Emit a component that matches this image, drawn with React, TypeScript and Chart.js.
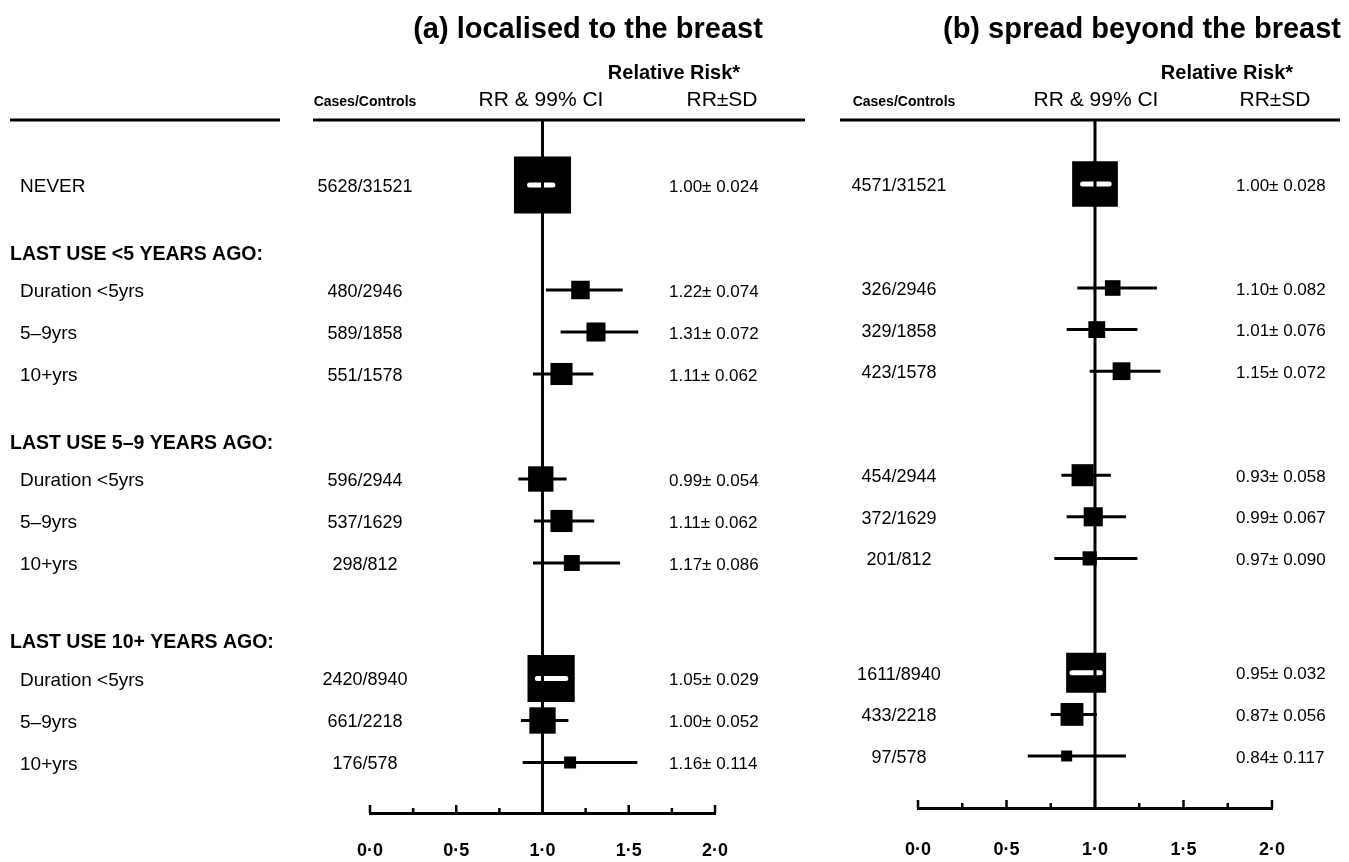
import React, { useEffect, useRef } from 'react';
import { Chart, registerables } from 'chart.js';

Chart.register(...registerables);

// ---------------- data ----------------
const TITLES = ['(a) localised to the breast', '(b) spread beyond the breast'];
const ROW_LABELS = [
  'NEVER',
  'Duration <5yrs', '5–9yrs', '10+yrs',
  'Duration <5yrs', '5–9yrs', '10+yrs',
  'Duration <5yrs', '5–9yrs', '10+yrs',
];
const SECTION_LABELS = ['LAST USE <5 YEARS AGO:', 'LAST USE 5–9 YEARS AGO:', 'LAST USE 10+ YEARS AGO:'];
const X_TICKS = [0, 0.5, 1, 1.5, 2];
const X_TICK_LABELS = ['0·0', '0·5', '1·0', '1·5', '2·0'];
const X_MINOR_TICKS = [0.25, 0.75, 1.25, 1.75];
const REF_RR = 1;

// (a) localised to the breast
const CASES_A = ['5628/31521', '480/2946', '589/1858', '551/1578', '596/2944', '537/1629', '298/812', '2420/8940', '661/2218', '176/578'];
const RR_A = [1.0, 1.22, 1.31, 1.11, 0.99, 1.11, 1.17, 1.05, 1.0, 1.16];
const SD_A = [0.024, 0.074, 0.072, 0.062, 0.054, 0.062, 0.086, 0.029, 0.052, 0.114];
const LO_A = [0.925, 1.02, 1.105, 0.945, 0.86, 0.95, 0.945, 0.97, 0.875, 0.885];
const HI_A = [1.06, 1.465, 1.555, 1.295, 1.14, 1.3, 1.45, 1.135, 1.15, 1.55];

// (b) spread beyond the breast
const CASES_B = ['4571/31521', '326/2946', '329/1858', '423/1578', '454/2944', '372/1629', '201/812', '1611/8940', '433/2218', '97/578'];
const RR_B = [1.0, 1.1, 1.01, 1.15, 0.93, 0.99, 0.97, 0.95, 0.87, 0.84];
const SD_B = [0.028, 0.082, 0.076, 0.072, 0.058, 0.067, 0.09, 0.032, 0.056, 0.117];
const LO_B = [0.93, 0.9, 0.84, 0.97, 0.81, 0.84, 0.77, 0.87, 0.75, 0.62];
const HI_B = [1.08, 1.35, 1.24, 1.37, 1.09, 1.175, 1.24, 1.03, 1.01, 1.175];

// ---------------- layout ----------------
const ROW_SLOTS = [0, 2.5, 3.5, 4.5, 7, 8, 9, 11.75, 12.75, 13.75];
const SECTION_SLOTS = [1.65, 6.15, 10.9];
const FONT = '"Liberation Sans", Arial, Helvetica, sans-serif';
const W = 1349;
const H = 862;

type Panel = {
  title: string;
  cases: string[];
  rr: number[];
  sd: number[];
  lo: number[];
  hi: number[];
  left: number;
  width: number;
  areaLeft: number;
  areaRight: number;
  areaTop: number;
  areaBottom: number;
  yMin: number;
  yMax: number;
  sizeK: number;
  titleX: number;
  relRiskX: number;
  casesHdrX: number;
  ciHdrX: number;
  sdHdrX: number;
  casesX: number;
  sdX: number;
  lines: number[][];
  rowLabels: boolean;
  tickPad: number;
};

const PANELS: Panel[] = [
  {
    title: TITLES[0], cases: CASES_A, rr: RR_A, sd: SD_A, lo: LO_A, hi: HI_A,
    left: 0, width: 830, areaLeft: 370, areaRight: 715, areaTop: 120, areaBottom: 813,
    yMin: -65 / 42, yMax: (813 - 185) / 42, sizeK: 1.37,
    titleX: 588, relRiskX: 674, casesHdrX: 365, ciHdrX: 541, sdHdrX: 722,
    casesX: 365, sdX: 669, lines: [[10, 280], [313, 805]], rowLabels: true, tickPad: 27,
  },
  {
    title: TITLES[1], cases: CASES_B, rr: RR_B, sd: SD_B, lo: LO_B, hi: HI_B,
    left: 830, width: W - 830, areaLeft: 918, areaRight: 1272, areaTop: 120, areaBottom: 808,
    yMin: -64 / 41.6, yMax: (808 - 184) / 41.6, sizeK: 1.28,
    titleX: 1142, relRiskX: 1227, casesHdrX: 904, ciHdrX: 1096, sdHdrX: 1275,
    casesX: 899, sdX: 1236, lines: [[840, 1340]], rowLabels: false, tickPad: 31,
  },
];

function buildChart(canvas: HTMLCanvasElement, p: Panel) {
  const side = (i: number) => p.sizeK / p.sd[i];
  const axisH = H - p.areaBottom;
  const datasets: any[] = [];

  // reference line at RR = 1
  datasets.push({
    type: 'line',
    data: [{ x: REF_RR, y: p.yMin }, { x: REF_RR, y: p.yMax }],
    borderColor: '#000',
    borderWidth: 3,
    pointRadius: 0,
    clip: false,
    order: 0,
  });

  // white CI drawn inside large squares
  p.rr.forEach((_, i) => {
    datasets.push({
      type: 'line',
      data: [{ x: p.lo[i], y: ROW_SLOTS[i] }, { x: p.hi[i], y: ROW_SLOTS[i] }],
      borderColor: 'rgba(0,0,0,0)',
      borderWidth: 5,
      borderCapStyle: 'round',
      pointRadius: 0,
      order: 1,
      segment: {
        borderColor: (ctx: any) => (ctx.p1.x - ctx.p0.x < side(i) - 4 ? '#fff' : 'rgba(0,0,0,0)'),
      },
    });
  });

  // squares
  datasets.push({
    type: 'scatter',
    data: p.rr.map((r, i) => ({ x: r, y: ROW_SLOTS[i] })),
    pointStyle: 'rect',
    pointRadius: (ctx: any) => side(ctx.dataIndex) / Math.SQRT2,
    backgroundColor: '#000',
    borderWidth: 0,
    order: 2,
  });

  // black CI lines
  p.rr.forEach((_, i) => {
    datasets.push({
      type: 'line',
      data: [{ x: p.lo[i], y: ROW_SLOTS[i] }, { x: p.hi[i], y: ROW_SLOTS[i] }],
      borderColor: '#000',
      borderWidth: 3,
      pointRadius: 0,
      order: 3,
    });
  });

  const off = p.left;

  const textPlugin = {
    id: 'forestText',
    afterDraw(chart: any) {
      const ctx = chart.ctx as CanvasRenderingContext2D;
      const y = chart.scales.y;
      ctx.save();
      ctx.fillStyle = '#000';
      ctx.strokeStyle = '#000';

      // titles & headers
      ctx.textBaseline = 'middle';
      ctx.textAlign = 'center';
      ctx.font = `bold 29px ${FONT}`;
      ctx.fillText(p.title, p.titleX - off, 30);
      ctx.font = `bold 20px ${FONT}`;
      ctx.fillText('Relative Risk*', p.relRiskX - off, 73);
      ctx.font = `bold 14px ${FONT}`;
      ctx.fillText('Cases/Controls', p.casesHdrX - off, 102);
      ctx.font = `21px ${FONT}`;
      ctx.fillText('RR & 99% CI', p.ciHdrX - off, 100);
      ctx.fillText('RR±SD', p.sdHdrX - off, 100);

      // header rule
      ctx.lineWidth = 3;
      p.lines.forEach(([a, b]) => {
        ctx.beginPath();
        ctx.moveTo(a - off, p.areaTop);
        ctx.lineTo(b - off, p.areaTop);
        ctx.stroke();
      });

      // rows
      p.rr.forEach((r, i) => {
        const py = y.getPixelForValue(ROW_SLOTS[i]) + 2;
        ctx.textAlign = 'center';
        ctx.font = `18px ${FONT}`;
        ctx.fillText(p.cases[i], p.casesX - off, py);
        ctx.textAlign = 'left';
        ctx.font = `17px ${FONT}`;
        ctx.fillText(`${r.toFixed(2)}± ${p.sd[i].toFixed(3)}`, p.sdX - off, py);
      });

      if (p.rowLabels) {
        ctx.textAlign = 'left';
        ctx.font = `19px ${FONT}`;
        ROW_LABELS.forEach((lab, i) => {
          ctx.fillText(lab, 20 - off, y.getPixelForValue(ROW_SLOTS[i]) + 2);
        });
        ctx.font = `bold 19.5px ${FONT}`;
        SECTION_LABELS.forEach((lab, i) => {
          ctx.fillText(lab, 10 - off, y.getPixelForValue(SECTION_SLOTS[i]));
        });
      }

      // upward tick marks on the x axis
      const x = chart.scales.x;
      const base = chart.chartArea.bottom;
      ctx.lineWidth = 2.5;
      X_TICKS.forEach((v) => {
        const px = x.getPixelForValue(v);
        ctx.beginPath();
        ctx.moveTo(px, base);
        ctx.lineTo(px, base - 8);
        ctx.stroke();
      });
      X_MINOR_TICKS.forEach((v) => {
        const px = x.getPixelForValue(v);
        ctx.beginPath();
        ctx.moveTo(px, base);
        ctx.lineTo(px, base - 5);
        ctx.stroke();
      });
      ctx.restore();
    },
  };

  return new Chart(canvas, {
    type: 'scatter',
    data: { datasets },
    options: {
      responsive: false,
      animation: false,
      devicePixelRatio: 1,
      events: [],
      layout: {
        padding: {
          left: p.areaLeft - p.left,
          right: p.left + p.width - p.areaRight,
          top: p.areaTop,
          bottom: 0,
        },
      },
      plugins: {
        legend: { display: false },
        tooltip: { enabled: false },
        title: { display: false },
      },
      scales: {
        x: {
          type: 'linear',
          min: 0,
          max: 2,
          position: 'bottom',
          afterFit: (s: any) => {
            s.height = axisH;
            s.paddingLeft = 0;
            s.paddingRight = 0;
          },
          afterBuildTicks: (s: any) => {
            s.ticks = X_TICKS.map((v) => ({ value: v }));
          },
          grid: { display: false, drawTicks: false },
          border: { display: true, color: '#000', width: 3 },
          ticks: {
            autoSkip: false,
            maxRotation: 0,
            padding: p.tickPad,
            color: '#000',
            font: { family: FONT, size: 18, weight: 'bold' },
            callback: (v: any) => X_TICK_LABELS[X_TICKS.indexOf(Number(v))] ?? '',
          },
        },
        y: {
          type: 'linear',
          display: false,
          reverse: true,
          min: p.yMin,
          max: p.yMax,
        },
      },
    } as any,
    plugins: [textPlugin],
  } as any);
}

function PanelCanvas({ panel }: { panel: Panel }) {
  const ref = useRef<HTMLCanvasElement | null>(null);
  useEffect(() => {
    if (!ref.current) return;
    const chart = buildChart(ref.current, panel);
    return () => chart.destroy();
  }, [panel]);
  return (
    <canvas
      ref={ref}
      width={panel.width}
      height={H}
      style={{ position: 'absolute', left: panel.left, top: 0, width: panel.width, height: H }}
    />
  );
}

export default function App() {
  return (
    <div style={{ position: 'absolute', left: 0, top: 0, width: W, height: H, background: '#fff', overflow: 'hidden' }}>
      {PANELS.map((p, i) => (
        <PanelCanvas key={i} panel={p} />
      ))}
    </div>
  );
}
